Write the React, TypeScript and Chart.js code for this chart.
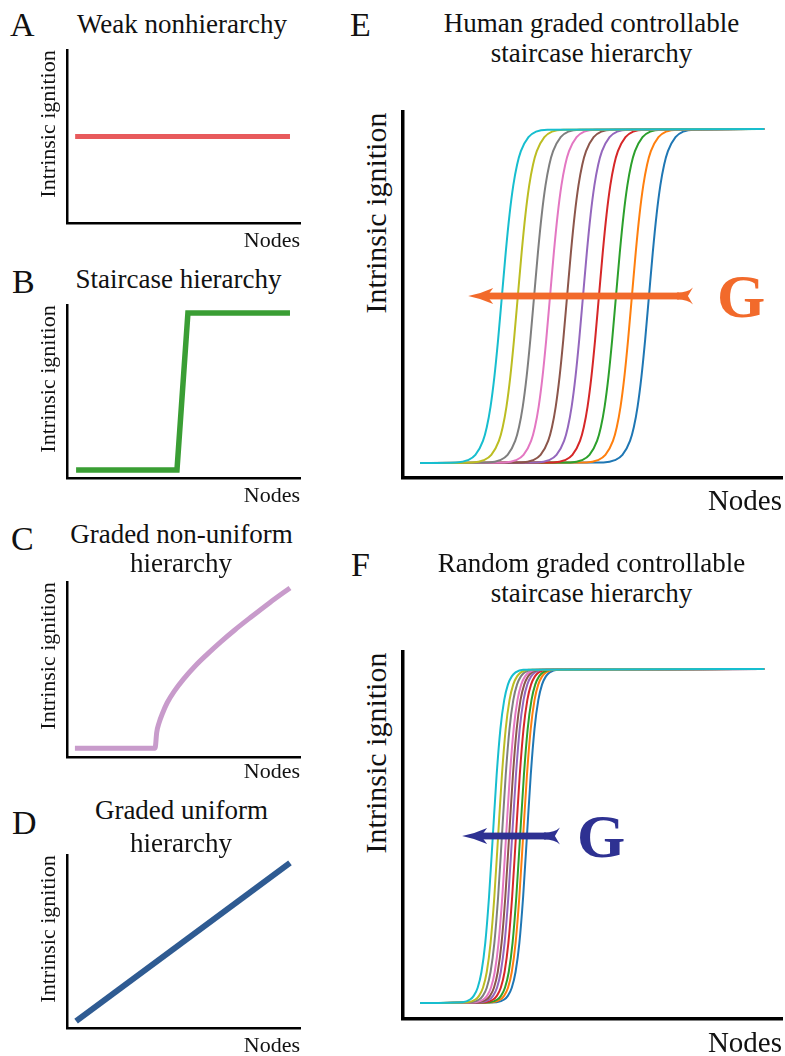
import React, { useEffect, useRef } from "react";
import { Chart, registerables } from "chart.js";

Chart.register(...registerables);

const SERIF = '"Liberation Serif", "Times New Roman", Times, serif';

// ---- Panel A: weak nonhierarchy ----
const weakNodes = [3.5, 95.7];
const weakIgnition = [50, 50];

// ---- Panel B: staircase hierarchy ----
const stairNodes = [3.9, 47.2, 51.9, 95.7];
const stairIgnition = [4.6, 4.6, 95.4, 95.4];

// ---- Panel C: graded non-uniform hierarchy ----
const nonUniformNodes = [3.4, 37.8, 38.5, 39.5, 41, 43, 46, 50, 55, 60, 66, 72, 79, 87, 95.7];
const nonUniformIgnition = [5, 5, 14, 19.5, 25, 31, 37.5, 44.5, 52, 58.5, 65.8, 72.6, 80, 88.2, 96.6];

// ---- Panel D: graded uniform hierarchy ----
const uniformNodes = [3.9, 95.7];
const uniformIgnition = [4, 95.4];

// ---- Panels E & F: graded controllable staircase hierarchies ----
const curveColors = ["#1f77b4", "#ff7f0e", "#2ca02c", "#d62728", "#9467bd", "#8c564b", "#e377c2", "#7f7f7f", "#bcbd22", "#17becf"];
const curveStartNode = 4.5;
const curveEndNode = 95.3;
// node at which each curve crosses half-height (blue ... cyan)
const humanMidNodes = [64.9, 60.4, 56.2, 51.7, 47.5, 43.3, 38.8, 34.6, 30.3, 26.1];
const randomMidNodes = [32.7, 31.7, 30.9, 29.8, 28.8, 28.0, 27.2, 26.1, 25.1, 23.7];
// shape of each step around its midpoint (node offset -> ignition)
const humanOffsets = [-12, -9, -7, -5, -4, -3, -2, -1, 0, 1, 2, 3, 4, 5, 7, 9, 12];
const humanProfile = [0.0017, 0.0084, 0.0239, 0.066, 0.107, 0.169, 0.257, 0.37, 0.5, 0.63, 0.743, 0.831, 0.893, 0.934, 0.976, 0.992, 0.998];
const randomOffsets = [-8, -6, -5, -4, -3, -2, -1, 0, 1, 2, 3, 4, 5, 6, 8];
const randomProfile = [0.0023, 0.0103, 0.0219, 0.0457, 0.0928, 0.179, 0.318, 0.5, 0.682, 0.821, 0.907, 0.954, 0.978, 0.99, 0.998];
// G arrows (node range, ignition level)
const humanArrow = { from: 17.2, to: 76.5, level: 0.5 };
const randomArrow = { from: 15.6, to: 41.4, level: 0.5 };

type Pt = { x: number; y: number };
const zipPts = (xs: number[], ys: number[]): Pt[] => xs.map((x, i) => ({ x, y: ys[i] }));

function stepCurves(mids: number[], offsets: number[], profile: number[]) {
  return mids.map((m, i) => {
    const pts: Pt[] = [{ x: curveStartNode, y: 0 }];
    offsets.forEach((o, j) => pts.push({ x: m + o, y: profile[j] }));
    pts.push({ x: curveEndNode, y: 1 });
    return {
      data: pts,
      borderColor: curveColors[i],
      borderWidth: 2,
      pointRadius: 0,
      fill: false,
      order: mids.length - 1 - i,
      cubicInterpolationMode: "monotone" as const,
    };
  });
}

function makeArrowPlugin(arrow: { from: number; to: number; level: number }, color: string) {
  return {
    id: "gArrow",
    afterDatasetsDraw(chart: any) {
      const { ctx } = chart;
      const xs = chart.scales.x;
      const ys = chart.scales.y;
      const tip = xs.getPixelForValue(arrow.from);
      const tail = xs.getPixelForValue(arrow.to);
      const y = ys.getPixelForValue(arrow.level);
      const hw = 3.4;
      ctx.save();
      ctx.fillStyle = color;
      // head
      ctx.beginPath();
      ctx.moveTo(tip, y);
      ctx.quadraticCurveTo(tip + 13, y - 2.5, tip + 25, y - 8);
      ctx.lineTo(tip + 19, y);
      ctx.lineTo(tip + 25, y + 8);
      ctx.quadraticCurveTo(tip + 13, y + 2.5, tip, y);
      ctx.closePath();
      ctx.fill();
      // shaft
      ctx.fillRect(tip + 18, y - hw, tail - 14 - (tip + 18), hw * 2);
      // tail
      ctx.beginPath();
      ctx.moveTo(tail - 16, y - hw);
      ctx.quadraticCurveTo(tail - 5, y - hw, tail, y - 8.5);
      ctx.lineTo(tail - 5, y);
      ctx.lineTo(tail, y + 8.5);
      ctx.quadraticCurveTo(tail - 5, y + hw, tail - 16, y + hw);
      ctx.closePath();
      ctx.fill();
      ctx.restore();
    },
  };
}

type Rect = { left: number; top: number; right: number; bottom: number };
const PAD = 8;

function Panel(props: {
  rect: Rect;
  datasets: any[];
  yMin: number;
  yMax: number;
  axisWidth: number;
  plugins?: any[];
}) {
  const ref = useRef<HTMLCanvasElement | null>(null);
  const { rect, datasets, yMin, yMax, axisWidth, plugins } = props;
  const w = rect.right - rect.left + PAD * 2;
  const h = rect.bottom - rect.top + PAD * 2;
  useEffect(() => {
    if (!ref.current) return;
    const chart = new Chart(ref.current, {
      type: "line",
      data: { datasets },
      options: {
        animation: false,
        responsive: false,
        events: [],
        layout: { padding: PAD },
        plugins: { legend: { display: false }, tooltip: { enabled: false } },
        scales: {
          x: {
            type: "linear",
            min: 0,
            max: 100,
            grid: { display: false, drawTicks: false },
            ticks: { display: false },
            border: { display: true, color: "#000", width: axisWidth },
          },
          y: {
            type: "linear",
            min: yMin,
            max: yMax,
            grid: { display: false, drawTicks: false },
            ticks: { display: false },
            border: { display: true, color: "#000", width: axisWidth },
          },
        },
      },
      plugins: plugins || [],
    } as any);
    return () => chart.destroy();
  }, []);
  return (
    <canvas
      ref={ref}
      width={w}
      height={h}
      style={{ position: "absolute", left: rect.left - PAD, top: rect.top - PAD, width: w, height: h }}
    />
  );
}

function Text(props: {
  x: number;
  y: number;
  children: React.ReactNode;
  size: number;
  bold?: boolean;
  color?: string;
  align?: "left" | "center" | "right";
  rotate?: boolean;
}) {
  const { x, y, size, bold, color, align = "center", rotate } = props;
  const tx = align === "left" ? "0" : align === "right" ? "-100%" : "-50%";
  return (
    <div
      style={{
        position: "absolute",
        left: x,
        top: y,
        fontFamily: SERIF,
        fontSize: size,
        fontWeight: bold ? 700 : 400,
        color: color || "#111",
        lineHeight: 1,
        whiteSpace: "nowrap",
        transform: rotate ? "translate(-50%,-50%) rotate(-90deg)" : `translate(${tx},-50%)`,
      }}
    >
      {props.children}
    </div>
  );
}

const line = (xs: number[], ys: number[], color: string, width: number, smooth = false) => ({
  data: zipPts(xs, ys),
  borderColor: color,
  borderWidth: width,
  pointRadius: 0,
  fill: false,
  borderCapStyle: "butt",
  borderJoinStyle: "miter",
  cubicInterpolationMode: smooth ? "monotone" : "default",
  tension: 0,
});

export default function App() {
  const rA = { left: 67, top: 50, right: 300, bottom: 223 };
  const rB = { left: 67, top: 305, right: 300, bottom: 478 };
  const rC = { left: 67, top: 582, right: 300, bottom: 757 };
  const rD = { left: 67, top: 855, right: 300, bottom: 1028 };
  const rE = { left: 403, top: 112, right: 782, bottom: 478 };
  const rF = { left: 403, top: 652, right: 782, bottom: 1019 };
  const orange = "#f26a2b";
  const navy = "#2e3192";
  return (
    <div style={{ position: "absolute", left: 0, top: 0, width: 785, height: 1056, background: "#fff", overflow: "hidden" }}>
      <Panel rect={rA} yMin={0} yMax={100} axisWidth={2.5} datasets={[line(weakNodes, weakIgnition, "#e85a5c", 5)]} />
      <Panel rect={rB} yMin={0} yMax={100} axisWidth={2.5} datasets={[line(stairNodes, stairIgnition, "#3a9e34", 5.5)]} />
      <Panel rect={rC} yMin={0} yMax={100} axisWidth={2.5} datasets={[line(nonUniformNodes, nonUniformIgnition, "#c89bcb", 5, true)]} />
      <Panel rect={rD} yMin={0} yMax={100} axisWidth={2.5} datasets={[line(uniformNodes, uniformIgnition, "#2f5b92", 6)]} />
      <Panel
        rect={rE}
        yMin={-0.045}
        yMax={1.051}
        axisWidth={3.5}
        datasets={stepCurves(humanMidNodes, humanOffsets, humanProfile)}
        plugins={[makeArrowPlugin(humanArrow, orange)]}
      />
      <Panel
        rect={rF}
        yMin={-0.048}
        yMax={1.051}
        axisWidth={3.5}
        datasets={stepCurves(randomMidNodes, randomOffsets, randomProfile)}
        plugins={[makeArrowPlugin(randomArrow, navy)]}
      />

      {/* panel letters */}
      <Text x={10} y={25} size={34} align="left">A</Text>
      <Text x={12} y={281.5} size={34} align="left">B</Text>
      <Text x={11} y={538.5} size={34} align="left">C</Text>
      <Text x={12} y={822.5} size={34} align="left">D</Text>
      <Text x={350} y={24.5} size={34} align="left">E</Text>
      <Text x={351} y={564.5} size={34} align="left">F</Text>

      {/* titles */}
      <Text x={182} y={23.5} size={27}>Weak nonhierarchy</Text>
      <Text x={178.5} y={278.5} size={27}>Staircase hierarchy</Text>
      <Text x={181.5} y={533.5} size={27}>Graded non-uniform</Text>
      <Text x={181} y={563} size={27}>hierarchy</Text>
      <Text x={181.5} y={810} size={27}>Graded uniform</Text>
      <Text x={181} y={842.5} size={27}>hierarchy</Text>
      <Text x={591.5} y={22.5} size={27}>Human graded controllable</Text>
      <Text x={591.5} y={52.5} size={27}>staircase hierarchy</Text>
      <Text x={591.5} y={562.5} size={27}>Random graded controllable</Text>
      <Text x={591.5} y={592.5} size={27}>staircase hierarchy</Text>

      {/* y axis labels */}
      <Text x={47.5} y={50 + 74} size={22} rotate>Intrinsic ignition</Text>
      <Text x={47.5} y={305 + 74} size={22} rotate>Intrinsic ignition</Text>
      <Text x={47.5} y={582 + 74} size={22} rotate>Intrinsic ignition</Text>
      <Text x={47.5} y={855 + 74} size={22} rotate>Intrinsic ignition</Text>
      <Text x={376} y={113 + 100} size={30} rotate>Intrinsic ignition</Text>
      <Text x={376} y={653 + 100} size={30} rotate>Intrinsic ignition</Text>

      {/* x axis labels */}
      <Text x={300} y={240} size={22} align="right">Nodes</Text>
      <Text x={300} y={494.5} size={22} align="right">Nodes</Text>
      <Text x={300} y={771} size={22} align="right">Nodes</Text>
      <Text x={300} y={1044.5} size={22} align="right">Nodes</Text>
      <Text x={782} y={500} size={29} align="right">Nodes</Text>
      <Text x={782} y={1042} size={29} align="right">Nodes</Text>

      {/* G labels */}
      <Text x={717} y={296} size={62} bold color={orange} align="left">G</Text>
      <Text x={577} y={836} size={62} bold color={navy} align="left">G</Text>
    </div>
  );
}
